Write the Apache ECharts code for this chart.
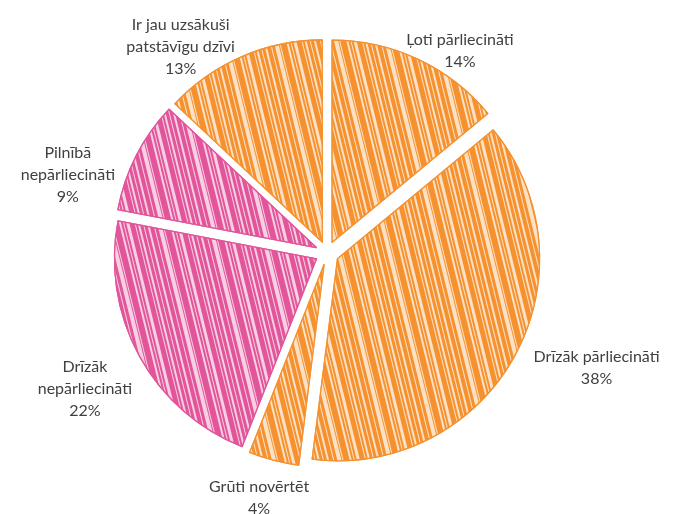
<!DOCTYPE html>
<html>
<head>
<meta charset="utf-8">
<style>
  html, body { margin: 0; padding: 0; background: #ffffff; }
  #chart { width: 681px; height: 514px; }
</style>
<script src="https://cdn.jsdelivr.net/npm/echarts@6/dist/echarts.min.js"></script>
</head>
<body>
<div id="chart"></div>
<script>
// ---- data ----
const categories = [
  'Ļoti pārliecināti',
  'Drīzāk pārliecināti',
  'Grūti novērtēt',
  'Drīzāk\nnepārliecināti',
  'Pilnībā\nnepārliecināti',
  'Ir jau uzsākuši\npatstāvīgu dzīvi'
];
const values = [14, 38, 4, 22, 9, 13];

// ---- styling ----
const ORANGE = '#F5922F';
const PINK = '#E2559A';
const sliceColors = [ORANGE, ORANGE, ORANGE, PINK, PINK, ORANGE];
// label line lengths used only to place the (hidden-line) labels
const labelLen1 = [9, 24, 39, 68, -41, 11];
const labelLen2 = [33, 56, 0, -10, 100, 52];

const hatch = {
  symbol: 'rect',
  symbolSize: 1,
  color: 'rgba(255,255,255,0.72)',
  dashArrayX: [1, 0],
  dashArrayY: [1, 3, 2, 2, 1, 5, 3, 2, 1, 2, 2, 6, 1, 1, 4, 3, 1, 4, 2, 3],
  rotation: 1.33
};

const pieData = categories.map(function (name, i) {
  const c = sliceColors[i];
  return {
    name: name,
    value: values[i],
    selected: true,
    itemStyle: { color: c, borderColor: c, borderWidth: 1.3, decal: hatch },
    select: { itemStyle: { color: c, borderColor: c, borderWidth: 1.3 } },
    labelLine: { show: false, length: labelLen1[i], length2: labelLen2[i] }
  };
});

const chart = echarts.init(document.getElementById('chart'), null, { renderer: 'canvas' });
chart.setOption({
  animation: false,
  backgroundColor: '#ffffff',
  series: [{
    type: 'pie',
    center: [327, 253],
    radius: 202,
    startAngle: 90,
    clockwise: true,
    selectedMode: 'multiple',
    selectedOffset: 12,
    avoidLabelOverlap: false,
    label: {
      show: true,
      position: 'outside',
      formatter: '{b}\n{c}%',
      fontFamily: 'Lato',
      fontSize: 16,
      lineHeight: 22,
      color: '#404040'
    },
    labelLine: { show: false },
    emphasis: { disabled: true },
    labelLayout: function (p) {
      const r = p.labelRect;
      return {
        x: r.x + r.width / 2,
        y: r.y + r.height / 2,
        align: 'center',
        verticalAlign: 'middle'
      };
    },
    data: pieData
  }]
});
</script>
</body>
</html>
